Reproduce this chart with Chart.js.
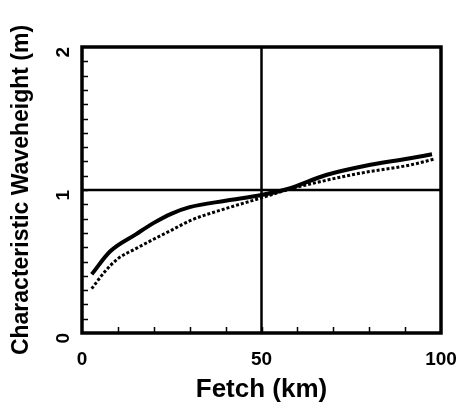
<!DOCTYPE html>
<html>
<head>
<meta charset="utf-8">
<script src="https://cdn.jsdelivr.net/npm/chart.js@4"></script>
<style>
  body { margin: 0; background: #fff; }
  #wrap { width: 461px; height: 405px; }
</style>
</head>
<body>
<div id="wrap"><canvas id="waveChart"></canvas></div>
<script>
var fetchSolid = [2.7, 7.8, 15, 20, 25, 30, 40, 50, 57, 68, 79, 91, 97.5];
var heightSolid = [0.41, 0.57, 0.69, 0.77, 0.835, 0.88, 0.925, 0.965, 1.005, 1.105, 1.17, 1.22, 1.25];
var fetchDotted = [2.7, 6.4, 10, 15, 19.5, 25, 30.5, 40, 50, 57, 64.4, 77.4, 91.4, 97.9];
var heightDotted = [0.31, 0.43, 0.52, 0.59, 0.65, 0.72, 0.79, 0.87, 0.945, 1.0, 1.047, 1.117, 1.175, 1.215];
var refFetch = 50;
var refHeight = 1;
var xLabels = [0, 50, 100];
var yLabels = [0, 1, 2];

function ToPoints(xs, ys) {
    var pts = [];
    for (var i = 0; i < xs.length; i++) {
        pts.push({x: xs[i], y: ys[i]});
    }
    return pts;
}

// box round the plot + inward minor ticks
var frame = {
    id: 'frame',
    afterDraw: function(chart) {
        var ctx = chart.ctx;
        var a = chart.chartArea;
        var xs = chart.scales.x, ys = chart.scales.y;
        ctx.save();
        ctx.strokeStyle = '#000';
        ctx.lineWidth = 1.5;
        ctx.beginPath();
        for (var v = 10; v < 100; v += 10) {
            var px = Math.round(xs.getPixelForValue(v)) + 0.5;
            ctx.moveTo(px, a.bottom);
            ctx.lineTo(px, a.bottom - 6);
        }
        for (var w = 1; w < 20; w++) {
            var py = Math.round(ys.getPixelForValue(w / 10)) + 0.5;
            ctx.moveTo(a.left, py);
            ctx.lineTo(a.left + 6, py);
        }
        ctx.stroke();
        ctx.lineWidth = 3.5;
        ctx.strokeRect(a.left, a.top, a.right - a.left, a.bottom - a.top);
        ctx.restore();
    }
};

var ctx = document.getElementById('waveChart');
var waveChart = new Chart(ctx, {
    type: 'scatter',
    data: {
        datasets: [
            {
                data: ToPoints([refFetch, refFetch], [0, 2]),
                showLine: true, borderColor: '#000', borderWidth: 2.5, pointRadius: 0
            },
            {
                data: ToPoints([0, 100], [refHeight, refHeight]),
                showLine: true, borderColor: '#000', borderWidth: 2.5, pointRadius: 0
            },
            {
                data: ToPoints(fetchSolid, heightSolid),
                showLine: true, borderColor: '#000', borderWidth: 4, pointRadius: 0,
                cubicInterpolationMode: 'monotone'
            },
            {
                data: ToPoints(fetchDotted, heightDotted),
                showLine: true, borderColor: '#000', borderWidth: 3, pointRadius: 0,
                borderDash: [3, 2], cubicInterpolationMode: 'monotone'
            }
        ]
    },
    options: {
        responsive: true,
        maintainAspectRatio: false,
        animation: false,
        layout: { padding: { top: 47, right: 20, left: 0, bottom: 0 } },
        plugins: { legend: { display: false }, tooltip: { enabled: false } },
        scales: {
            x: {
                type: 'linear', min: 0, max: 100,
                afterFit: function(s) {
                    s.height = 72;
                    s.paddingLeft = 0;
                    s.paddingRight = 0;
                },
                grid: { display: false, drawTicks: false },
                border: { display: false },
                ticks: {
                    stepSize: 10, padding: 15, color: '#000', maxRotation: 0,
                    font: { family: 'Liberation Sans', weight: 'bold', size: 19 },
                    callback: function(v) { return xLabels.indexOf(v) >= 0 ? v : ''; }
                },
                title: {
                    display: true, text: 'Fetch (km)', color: '#000', padding: 0,
                    font: { family: 'Liberation Sans', weight: 'bold', size: 26 }
                }
            },
            y: {
                type: 'linear', min: 0, max: 2,
                afterFit: function(s) {
                    s.width = 82;
                    s.paddingTop = 0;
                    s.paddingBottom = 0;
                },
                grid: { display: false, drawTicks: false },
                border: { display: false },
                ticks: {
                    stepSize: 0.1, padding: 18, color: '#000',
                    minRotation: 90, maxRotation: 90,
                    font: { family: 'Liberation Sans', weight: 'bold', size: 19 },
                    callback: function(v) {
                        var r = Math.round(v * 10) / 10;
                        return yLabels.indexOf(r) >= 0 ? r : '';
                    }
                },
                title: {
                    display: true, text: 'Characteristic Waveheight (m)', color: '#000',
                    padding: { top: 8, bottom: 0 },
                    font: { family: 'Liberation Sans', weight: 'bold', size: 23 }
                }
            }
        }
    },
    plugins: [frame]
});
</script>
</body>
</html>
